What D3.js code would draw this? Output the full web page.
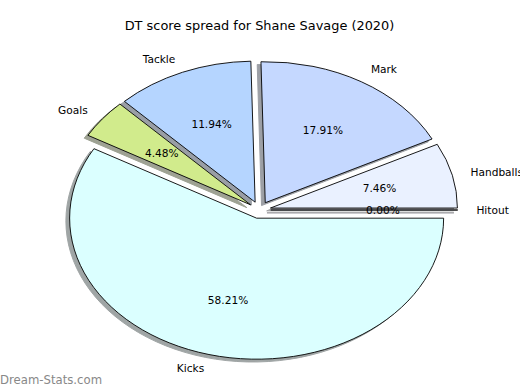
<!DOCTYPE html>
<html>
<head>
<meta charset="utf-8">
<script src="https://cdn.jsdelivr.net/npm/d3@7"></script>
<style>
  body { margin: 0; background: #fff; }
  svg { display: block; font-family: "DejaVu Sans", sans-serif; }
</style>
</head>
<body>
<div class="piediv"></div>
<script>
// DT points per stat (order as drawn, counterclockwise from 3 o'clock)
const categories = ['Hitout', 'Handballs', 'Mark', 'Tackle', 'Goals', 'Kicks']
const points = [0, 10, 24, 16, 6, 78]
const colours = ['#e6e6ff', '#eaf1ff', '#c5d8ff', '#b5d5ff', '#d1eb8c', '#dbffff']
const titleText = 'DT score spread for Shane Savage (2020)'

let w = 520, h = 390
let cx = 259.5, cy = 210,
    rx = 187, ry = 141
let explode = 0.06,
    shadowOff = -0.02

// data units -> pixels (pie is stretched, axes not equal)
let xScale = d3.scaleLinear().domain([-1, 1]).range([cx - rx, cx + rx])
let yScale = d3.scaleLinear().domain([-1, 1]).range([cy + ry, cy - ry])

let svg = d3.select('.piediv').append('svg')
    .attr('width', w)
    .attr('height', h)

svg.append('text')
    .attr('x', 259.5)
    .attr('y', 30)
    .attr('text-anchor', 'middle')
    .style('font-size', '12.9px')
    .text(titleText)

let total = d3.sum(points)
let data = categories.map((d, i) => ({ name: d, value: points[i], colour: colours[i] }))

// counterclockwise starting at 3 o'clock, like matplotlib
let pie = d3.pie()
    .sort(null)
    .value(d => d.value)
    .startAngle(Math.PI / 2)
    .endAngle(Math.PI / 2 - 2 * Math.PI)

let arc = d3.arc().innerRadius(0).outerRadius(1)
let arcs = pie(data)

arcs.forEach(a => {
    // math angle of the wedge middle
    let th = Math.PI / 2 - (a.startAngle + a.endAngle) / 2
    a.th = th
    a.ox = explode * Math.cos(th)
    a.oy = explode * Math.sin(th)
})

let g = svg.append('g')

// shadow then wedge, in order
arcs.forEach(a => {
    let c = d3.rgb(a.data.colour)
    let shade = d3.rgb(c.r * 0.3, c.g * 0.3, c.b * 0.3)
    g.append('path')
        .attr('d', arc(a))
        .attr('transform', 'translate(' + xScale(a.ox + shadowOff) + ',' + yScale(a.oy + shadowOff) + ') scale(' + rx + ',' + ry + ')')
        .attr('vector-effect', 'non-scaling-stroke')
        .style('fill', shade)
        .style('stroke', shade)
        .style('stroke-width', 1)
        .style('opacity', 0.5)

    g.append('path')
        .attr('d', arc(a))
        .attr('transform', 'translate(' + xScale(a.ox) + ',' + yScale(a.oy) + ') scale(' + rx + ',' + ry + ')')
        .attr('vector-effect', 'non-scaling-stroke')
        .style('fill', a.data.colour)
        .style('stroke', '#000')
        .style('stroke-width', 0.9)
})

// labels at 1.1 r, percentages at 0.6 r
arcs.forEach(a => {
    let lx = a.ox + 1.1 * Math.cos(a.th),
        ly = a.oy + 1.1 * Math.sin(a.th)
    svg.append('text')
        .attr('x', xScale(lx))
        .attr('y', yScale(ly))
        .attr('dy', '0.35em')
        .attr('text-anchor', lx > 0 ? 'start' : 'end')
        .style('font-size', '10.6px')
        .text(a.data.name)

    let px = a.ox + 0.6 * Math.cos(a.th),
        py = a.oy + 0.6 * Math.sin(a.th)
    svg.append('text')
        .attr('x', xScale(px))
        .attr('y', yScale(py))
        .attr('dy', '0.35em')
        .attr('text-anchor', 'middle')
        .style('font-size', '10.6px')
        .text((a.data.value / total * 100).toFixed(2) + '%')
})

// watermark
svg.append('text')
    .attr('x', 0)
    .attr('y', 384)
    .style('font-size', '11.7px')
    .style('fill', '#888')
    .text('Dream-Stats.com')
</script>
</body>
</html>
